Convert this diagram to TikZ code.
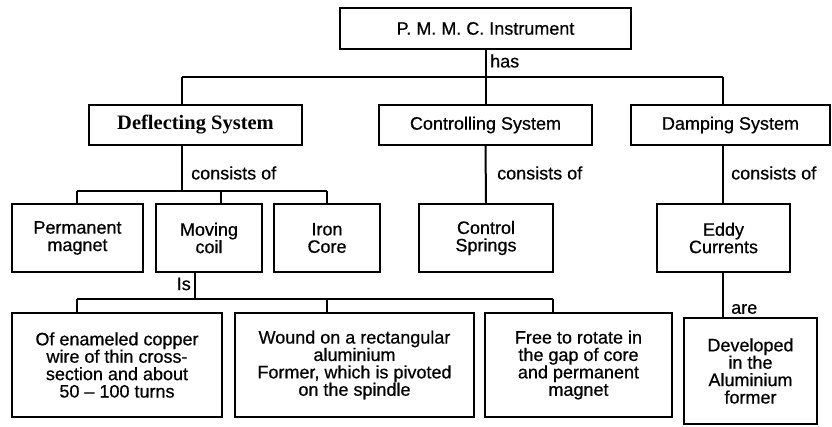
\documentclass[tikz,border=0pt]{standalone}
\usepackage{fontspec}
\setmainfont{Liberation Sans}
\newfontfamily\heavysans{Liberation Sans}[Ligatures=TeX, UprightFeatures={FakeBold=0.6}]
\newfontfamily\serifont{Liberation Serif}[Ligatures=TeX]
\usetikzlibrary{positioning}

\begin{document}
\begin{tikzpicture}[x=1pt, y=-1pt,
    box/.style={draw, line width=2pt, inner sep=0pt, align=center, font=\heavysans\fontsize{18}{17.4}\selectfont},
    lbl/.style={inner sep=0pt, font=\heavysans\fontsize{18}{18}\selectfont},
    conn/.style={line width=2pt}]
    \useasboundingbox (0,0) rectangle (832,427);

    % Instrument
    \node[box, minimum width=291pt, minimum height=41pt] (pmmc) at (485.5,28.5) {P. M. M. C. Instrument};

    % Systems
    \node[box, minimum width=213pt, minimum height=40pt, font=\serifont\bfseries\fontsize{20.5}{20}\selectfont] (defl) at (195.5,125) {Deflecting System};
    \node[box, minimum width=213pt, minimum height=40pt] (ctrl) at (485.5,125) {Controlling System};
    \node[box, minimum width=199pt, minimum height=40pt] (damp) at (730.5,125) {Damping System};

    % Parts
    \node[box, minimum width=131pt, minimum height=68pt] (perm) at (77.5,238) {Permanent\\magnet};
    \node[box, minimum width=106pt, minimum height=68pt] (coil) at (209,238) {Moving\\coil};
    \node[box, minimum width=106pt, minimum height=68pt] (iron) at (327,238) {Iron\\Core};
    \node[box, minimum width=134pt, minimum height=68pt] (spring) at (486,238) {Control\\Springs};
    \node[box, minimum width=133pt, minimum height=68pt] (eddy) at (723.5,238) {Eddy\\Currents};

    % Details
    \node[box, minimum width=210pt, minimum height=104pt] (enam) at (117,365) {Of enameled copper\\wire of thin cross-\\section and about\\50 – 100 turns};
    \node[box, minimum width=239pt, minimum height=104pt] (wound) at (354.5,365) {Wound on a rectangular\\aluminium\\Former, which is pivoted\\on the spindle};
    \node[box, minimum width=187pt, minimum height=104pt] (free) at (578.5,365) {Free to rotate in\\the gap of core\\and permanent\\magnet};
    \node[box, minimum width=133pt, minimum height=106pt] (devel) at (750.5,371) {Developed\\in the\\Aluminium\\former};

    % Bus points
    \coordinate (hasL) at (182,77);
    \coordinate (hasR) at (723,77);
    \coordinate (dsL) at (77,191);
    \coordinate (dsM) at (221,191);
    \coordinate (dsR) at (327,191);
    \coordinate (isL) at (77,299);
    \coordinate (isC) at (195,299);
    \coordinate (isM) at (327,299);
    \coordinate (isR) at (553,299);

    % has
    \draw[conn] (pmmc.south) -- (pmmc.south |- hasL);
    \draw[conn] (hasL) -- (hasR);
    \draw[conn] (hasL) -- (hasL |- defl.north);
    \draw[conn] (ctrl.north |- hasL) -- (ctrl.north);
    \draw[conn] (hasR) -- (hasR |- damp.north);
    \node[lbl, anchor=west] (has) at (490,61) {has};

    % consists of
    \draw[conn] (hasL |- defl.south) -- (hasL |- dsL);
    \draw[conn] (dsL) -- (dsR);
    \draw[conn] (dsL) -- (dsL |- perm.north);
    \draw[conn] (dsM) -- (dsM |- coil.north);
    \draw[conn] (dsR) -- (dsR |- iron.north);
    \draw[conn] (ctrl.south) -- (spring.north);
    \draw[conn] (hasR |- damp.south) -- (hasR |- eddy.north);
    \node[lbl, anchor=west] (cons1) at (191,173) {consists of};
    \node[lbl, anchor=west] (cons2) at (497,173) {consists of};
    \node[lbl, anchor=west] (cons3) at (731,173) {consists of};

    % Is
    \draw[conn] (isC |- coil.south) -- (isC);
    \draw[conn] (isL) -- (isR);
    \draw[conn] (isL) -- (isL |- enam.north);
    \draw[conn] (isM) -- (isM |- wound.north);
    \draw[conn] (isR) -- (isR |- free.north);
    \node[lbl, anchor=east] (is) at (191,284) {Is};

    % are
    \draw[conn] (hasR |- eddy.south) -- (hasR |- devel.north);
    \node[lbl, anchor=west] (are) at (731,309) {are};
\end{tikzpicture}
\end{document}
